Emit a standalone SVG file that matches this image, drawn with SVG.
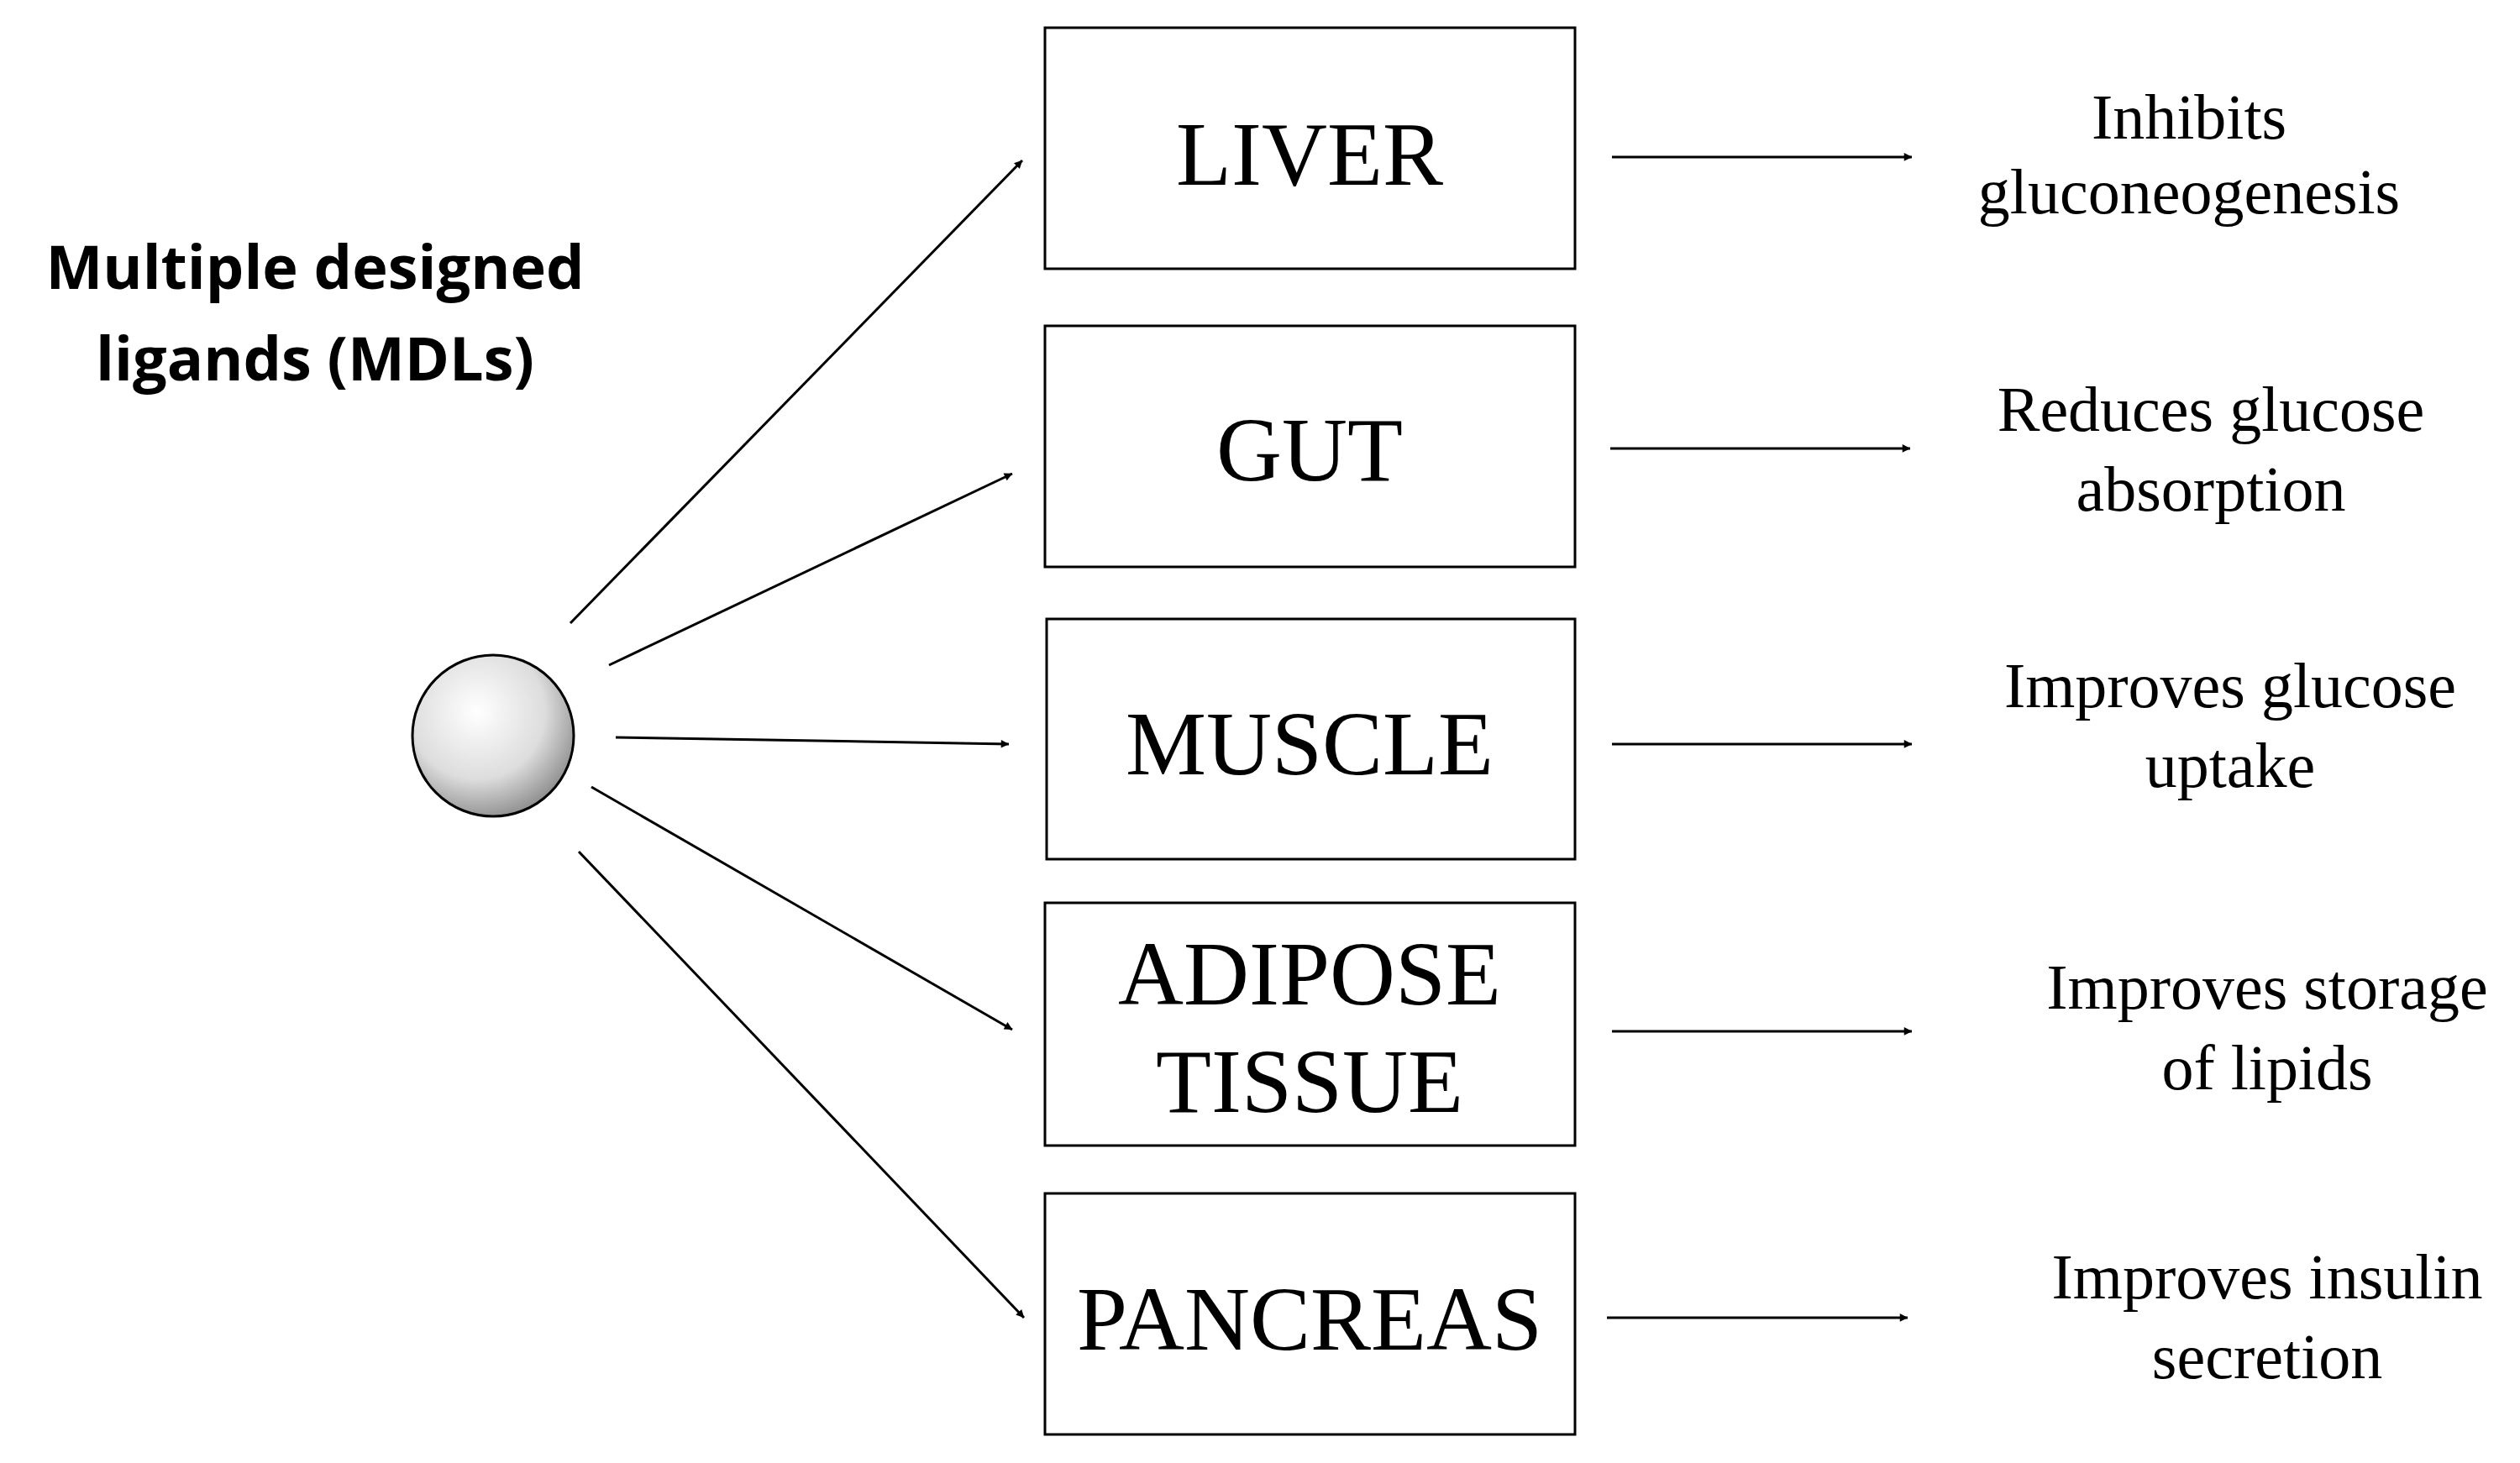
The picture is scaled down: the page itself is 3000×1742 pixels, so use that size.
<svg xmlns="http://www.w3.org/2000/svg" width="3000" height="1742" viewBox="0 0 3000 1742">
<style>
.box{fill:#fff;stroke:#000;stroke-width:3}
.bt{font-family:"Liberation Serif",serif;font-size:108px;text-anchor:middle}
.rt{font-family:"Liberation Serif",serif;font-size:76px;text-anchor:middle}
.tt{font-family:"Open Sans","Liberation Sans",sans-serif;font-weight:bold;font-size:72px;text-anchor:middle}
.c line{stroke:#000;stroke-width:3;marker-end:url(#a)}
</style>
<defs>
<marker id="a" viewBox="0 0 10 10" refX="9" refY="5" markerWidth="6" markerHeight="6" orient="auto" markerUnits="userSpaceOnUse" style="overflow:visible"><path d="M0,0 L10,5 L0,10 z" transform="scale(1.6) translate(-4,-2)"/></marker>
<radialGradient id="g" cx="0.4" cy="0.35" r="0.7"><stop offset="0" stop-color="#fff"/><stop offset="0.6" stop-color="#ddd"/><stop offset="1" stop-color="#888"/></radialGradient>
</defs>
<rect width="3000" height="1742" fill="#fff"/>
<g id="title"><text class="tt" x="375" y="344">Multiple designed</text><text class="tt" x="375" y="453">ligands (MDLs)</text></g>
<g id="ligand"><circle cx="587" cy="876" r="96" fill="url(#g)" stroke="#000" stroke-width="3"/></g>
<g id="liver"><rect class="box" x="1244" y="33" width="631" height="287"/><text class="bt" x="1559" y="220">LIVER</text></g>
<g id="gut"><rect class="box" x="1244" y="388" width="631" height="287"/><text class="bt" x="1559" y="572">GUT</text></g>
<g id="muscle"><rect class="box" x="1246" y="737" width="629" height="286"/><text class="bt" x="1559" y="922">MUSCLE</text></g>
<g id="adipose"><rect class="box" x="1244" y="1075" width="631" height="289"/><text class="bt" x="1559" y="1196">ADIPOSE</text><text class="bt" x="1559" y="1324">TISSUE</text></g>
<g id="pancreas"><rect class="box" x="1244" y="1421" width="631" height="287"/><text class="bt" x="1559" y="1607">PANCREAS</text></g>
<g id="effects">
<text class="rt" x="2606" y="165">Inhibits</text><text class="rt" x="2606" y="254">gluconeogenesis</text>
<text class="rt" x="2632" y="513">Reduces glucose</text><text class="rt" x="2632" y="608">absorption</text>
<text class="rt" x="2655" y="842">Improves glucose</text><text class="rt" x="2655" y="937">uptake</text>
<text class="rt" x="2699" y="1201">Improves storage</text><text class="rt" x="2699" y="1297">of lipids</text>
<text class="rt" x="2699" y="1546">Improves insulin</text><text class="rt" x="2699" y="1641">secretion</text>
</g>
<g id="connectors" class="c">
<line x1="679" y1="742" x2="1217" y2="191"/>
<line x1="725" y1="792" x2="1205" y2="564"/>
<line x1="733" y1="878" x2="1201" y2="886"/>
<line x1="704" y1="937" x2="1205" y2="1226"/>
<line x1="689" y1="1014" x2="1219" y2="1569"/>
<line x1="1919" y1="187" x2="2276" y2="187"/>
<line x1="1917" y1="534" x2="2274" y2="534"/>
<line x1="1919" y1="886" x2="2276" y2="886"/>
<line x1="1919" y1="1228" x2="2276" y2="1228"/>
<line x1="1913" y1="1569" x2="2271" y2="1569"/>
</g>
</svg>
